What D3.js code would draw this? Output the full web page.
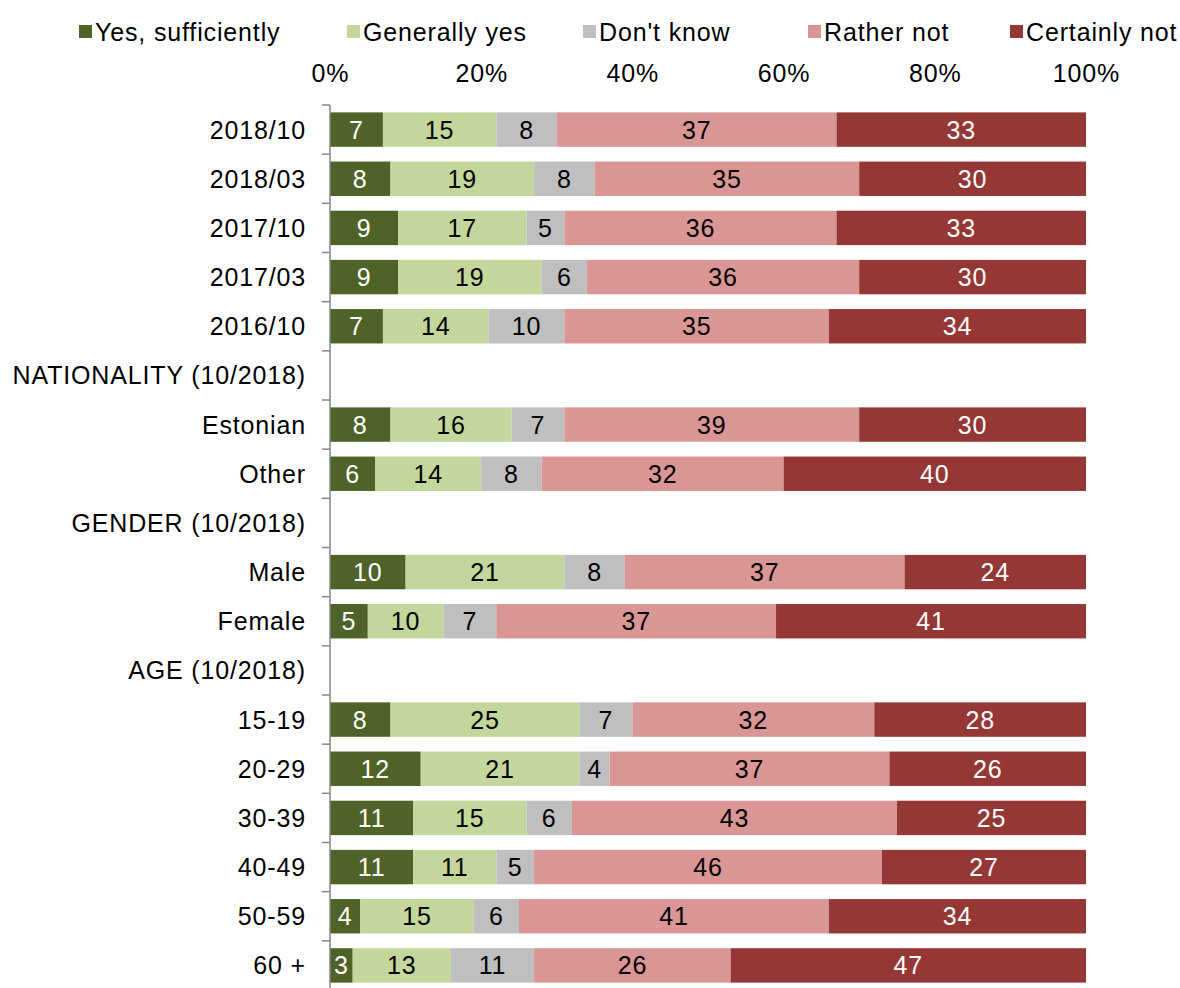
<!DOCTYPE html>
<html>
<head>
<meta charset="utf-8">
<script src="https://cdn.jsdelivr.net/npm/d3@7"></script>
<style>
  html, body { margin: 0; padding: 0; background: #fff; }
  svg { display: block; font-family: "Liberation Sans", Arial, sans-serif; }
  svg text { letter-spacing: 0.85px; }
</style>
</head>
<body>
<svg id="chart" width="1180" height="988"></svg>
<script>
// Row labels (group headers have no bar)
const categories = [
  "2018/10", "2018/03", "2017/10", "2017/03", "2016/10",
  "NATIONALITY (10/2018)", "Estonian", "Other",
  "GENDER (10/2018)", "Male", "Female",
  "AGE (10/2018)", "15-19", "20-29", "30-39", "40-49", "50-59", "60 +"
];
const headers = ["NATIONALITY (10/2018)", "GENDER (10/2018)", "AGE (10/2018)"];

const seriesNames = ["Yes, sufficiently", "Generally yes", "Don't know", "Rather not", "Certainly not"];

// Percent shares per row, null for header rows
const yesSufficiently = [7, 8, 9, 9, 7, null, 8, 6, null, 10, 5, null, 8, 12, 11, 11, 4, 3];
const generallyYes    = [15, 19, 17, 19, 14, null, 16, 14, null, 21, 10, null, 25, 21, 15, 11, 15, 13];
const dontKnow        = [8, 8, 5, 6, 10, null, 7, 8, null, 8, 7, null, 7, 4, 6, 5, 6, 11];
const ratherNot       = [37, 35, 36, 36, 35, null, 39, 32, null, 37, 37, null, 32, 37, 43, 46, 41, 26];
const certainlyNot    = [33, 30, 33, 30, 34, null, 30, 40, null, 24, 41, null, 28, 26, 25, 27, 34, 47];

const tickValues = [0, 20, 40, 60, 80, 100];

const seriesColors = ["#4F6228", "#C3D69B", "#BFBFBF", "#D99694", "#953735"];
const labelColors  = ["#ffffff", "#000000", "#000000", "#000000", "#ffffff"];

const seriesValues = [yesSufficiently, generallyYes, dontKnow, ratherNot, certainlyNot];

const rows = categories.map((c, i) => {
  const r = { category: c };
  seriesNames.forEach((s, k) => { r[s] = seriesValues[k][i]; });
  return r;
});

const svg = d3.select("#chart");
const fontSize = 25;

const x = d3.scaleLinear().domain([0, 100]).range([330, 1086]);
const y = d3.scaleBand()
  .domain(categories)
  .range([105, 990])
  .paddingInner(0.3)
  .paddingOuter(0.15);

const stack = d3.stack().keys(seriesNames).value((d, k) => d[k] == null ? 0 : d[k]);
const stacked = stack(rows.filter(r => !headers.includes(r.category)));

// Bars
const layers = svg.append("g").selectAll("g")
  .data(stacked)
  .join("g")
  .attr("fill", (d, i) => seriesColors[i]);

layers.selectAll("rect")
  .data(d => d.map(p => ({ p, key: d.key })))
  .join("rect")
  .attr("x", d => x(d.p[0]))
  .attr("y", d => y(d.p.data.category))
  .attr("width", d => x(d.p[1]) - x(d.p[0]))
  .attr("height", y.bandwidth());

// Value labels
layers.each(function (layer, i) {
  d3.select(this).selectAll("text")
    .data(layer)
    .join("text")
    .attr("x", d => (x(d[0]) + x(d[1])) / 2)
    .attr("y", d => y(d.data.category) + y.bandwidth() / 2)
    .attr("dy", "0.36em")
    .attr("text-anchor", "middle")
    .attr("font-size", fontSize)
    .attr("fill", labelColors[i])
    .text(d => d.data[layer.key]);
});

// Top percentage axis (labels only)
const xAxis = svg.append("g")
  .attr("transform", "translate(0,73)")
  .call(d3.axisTop(x).tickValues(tickValues).tickFormat(d => d + "%").tickSize(0).tickPadding(0));
xAxis.select(".domain").remove();
xAxis.selectAll("text")
  .attr("font-size", fontSize)
  .attr("font-family", "Liberation Sans, Arial, sans-serif")
  .attr("fill", "#000")
  .attr("dy", "0.36em");

// Category axis: vertical line with ticks at band boundaries
const step = y.step();
const yAxis = svg.append("g");
yAxis.append("line")
  .attr("x1", 330).attr("x2", 330)
  .attr("y1", y.range()[0]).attr("y2", y.range()[1])
  .attr("stroke", "#868686").attr("stroke-width", 1.5);
yAxis.selectAll("line.tick")
  .data(d3.range(categories.length + 1))
  .join("line")
  .attr("class", "tick")
  .attr("x1", 322).attr("x2", 330)
  .attr("y1", i => y.range()[0] + i * step)
  .attr("y2", i => y.range()[0] + i * step)
  .attr("stroke", "#868686").attr("stroke-width", 1.5);

yAxis.selectAll("text")
  .data(categories)
  .join("text")
  .attr("x", 306)
  .attr("y", d => y(d) + y.bandwidth() / 2)
  .attr("dy", "0.36em")
  .attr("text-anchor", "end")
  .attr("font-size", fontSize)
  .attr("fill", "#000")
  .text(d => d);

// Legend
const legendX = [79, 347, 583, 808, 1010];
const legend = svg.append("g").selectAll("g")
  .data(seriesNames)
  .join("g")
  .attr("transform", (d, i) => `translate(${legendX[i]},32)`);
legend.append("rect")
  .attr("x", 0).attr("y", -7)
  .attr("width", 13).attr("height", 13)
  .attr("fill", (d, i) => seriesColors[i]);
legend.append("text")
  .attr("x", 16)
  .attr("dy", "0.36em")
  .attr("font-size", fontSize)
  .attr("fill", "#000")
  .text(d => d);
</script>
</body>
</html>
